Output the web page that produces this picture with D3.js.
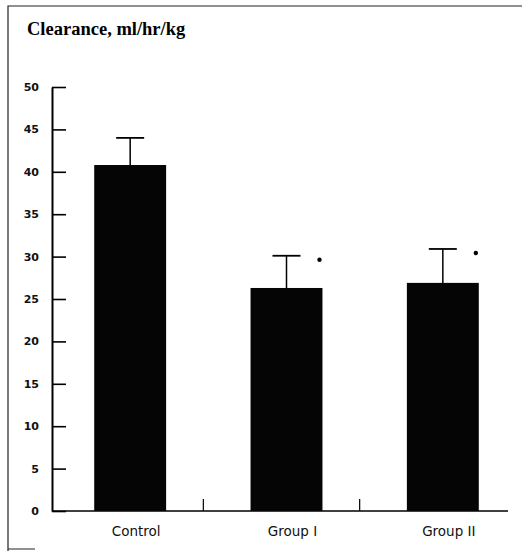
<!DOCTYPE html>
<html>
<head>
<meta charset="utf-8">
<style>
  body { margin: 0; background: #fff; }
  svg { display: block; }
  .title { font-family: "Liberation Serif", serif; font-weight: bold; font-size: 18.5px; }
  .ytick text { font-family: "DejaVu Sans", sans-serif; font-weight: bold; font-size: 11px; fill: #111; }
  .cat { font-family: "DejaVu Sans", sans-serif; font-size: 13.5px; fill: #111; }
</style>
</head>
<body>
<script src="https://cdnjs.cloudflare.com/ajax/libs/d3/7.8.5/d3.min.js"></script>
<script>
  // data
  var categories = ["Control", "Group I", "Group II"];
  var means = [40.8, 26.3, 26.9];
  var errors = [3.2, 3.8, 4.0];
  var significant = [false, true, true];
  var yTicks = [0, 5, 10, 15, 20, 25, 30, 35, 40, 45, 50];

  var W = 522, H = 551;
  var plotLeft = 52, plotRight = 508, plotTop = 87, plotBottom = 511;

  var svg = d3.select("body").append("svg")
      .attr("width", W)
      .attr("height", H);

  // scanned frame (left, top and a bit of bottom)
  svg.append("path")
      .attr("d", "M8,551V6H522 M8,549H35")
      .attr("fill", "none")
      .attr("stroke", "#222")
      .attr("stroke-width", 1.2);

  svg.append("text")
      .attr("class", "title")
      .attr("x", 27).attr("y", 35)
      .text("Clearance, ml/hr/kg");

  var y = d3.scaleLinear().domain([0, 50]).range([plotBottom, plotTop]);

  var x = d3.scaleBand()
      .domain(categories)
      .range([plotLeft, 521])
      .paddingInner(0.54)
      .paddingOuter(0.27);

  // y axis, ticks pointing into the plot
  var yAxis = svg.append("g")
      .attr("class", "ytick")
      .attr("transform", "translate(" + plotLeft + ",0)")
      .call(d3.axisLeft(y).tickValues(yTicks).tickSize(-14).tickSizeOuter(0).tickPadding(13));
  yAxis.select(".domain").attr("stroke", "#000").attr("stroke-width", 2);
  yAxis.selectAll(".tick line").attr("stroke", "#000").attr("stroke-width", 1.6);

  // baseline
  svg.append("line")
      .attr("x1", plotLeft).attr("x2", plotRight)
      .attr("y1", plotBottom).attr("y2", plotBottom)
      .attr("stroke", "#000").attr("stroke-width", 1.6);

  // little dividers between groups
  svg.selectAll(".div")
      .data(categories.slice(1))
      .enter().append("line")
      .attr("x1", function(d) { return x(d) - x.step() * x.paddingInner() / 2 - 5; })
      .attr("x2", function(d) { return x(d) - x.step() * x.paddingInner() / 2 - 5; })
      .attr("y1", plotBottom).attr("y2", plotBottom - 12)
      .attr("stroke", "#000").attr("stroke-width", 1.2);

  var data = categories.map(function(c, i) {
    return { cat: c, mean: means[i], err: errors[i], sig: significant[i] };
  });

  // error bars behind the bars
  var eb = svg.selectAll(".err").data(data).enter().append("g");
  eb.append("line")
      .attr("x1", function(d) { return x(d.cat) + x.bandwidth() / 2; })
      .attr("x2", function(d) { return x(d.cat) + x.bandwidth() / 2; })
      .attr("y1", function(d) { return y(d.mean); })
      .attr("y2", function(d) { return y(d.mean + d.err); })
      .attr("stroke", "#000").attr("stroke-width", 1.5);
  eb.append("line")
      .attr("x1", function(d) { return x(d.cat) + x.bandwidth() / 2 - 14; })
      .attr("x2", function(d) { return x(d.cat) + x.bandwidth() / 2 + 14; })
      .attr("y1", function(d) { return y(d.mean + d.err); })
      .attr("y2", function(d) { return y(d.mean + d.err); })
      .attr("stroke", "#000").attr("stroke-width", 1.8);

  svg.selectAll(".bar")
      .data(data)
      .enter().append("rect")
      .attr("x", function(d) { return x(d.cat); })
      .attr("width", x.bandwidth())
      .attr("y", function(d) { return y(d.mean); })
      .attr("height", function(d) { return plotBottom - y(d.mean); })
      .attr("fill", "#050505");

  // significance marks
  svg.selectAll(".star")
      .data(data.filter(function(d) { return d.sig; }))
      .enter().append("circle")
      .attr("cx", function(d) { return x(d.cat) + x.bandwidth() / 2 + 33; })
      .attr("cy", function(d) { return y(d.mean + d.err) + 4; })
      .attr("r", 2.2)
      .attr("fill", "#000");

  svg.selectAll(".cat")
      .data(categories)
      .enter().append("text")
      .attr("class", "cat")
      .attr("x", function(d) { return x(d) + x.bandwidth() / 2 + 6; })
      .attr("y", 536)
      .attr("text-anchor", "middle")
      .text(function(d) { return d; });
</script>
</body>
</html>
